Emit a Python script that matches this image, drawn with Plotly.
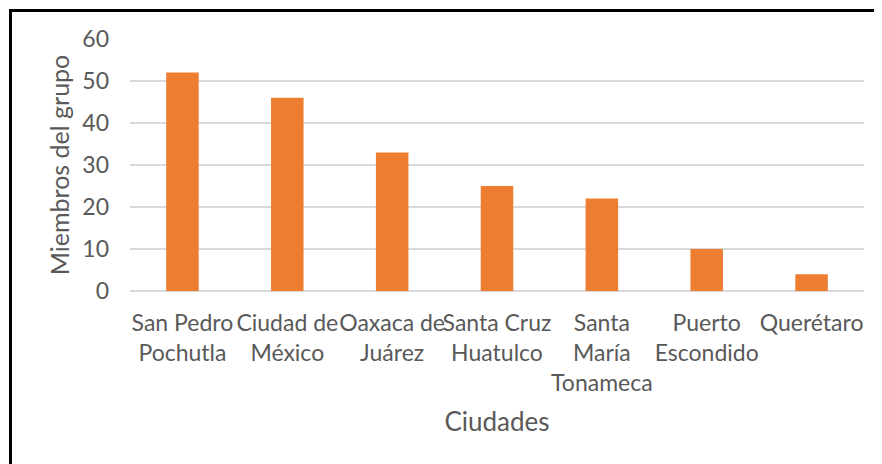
import plotly.graph_objects as go

categories = ["San Pedro<br>Pochutla", "Ciudad de<br>México", "Oaxaca de<br>Juárez",
              "Santa Cruz<br>Huatulco", "Santa<br>María<br>Tonameca",
              "Puerto<br>Escondido", "Querétaro"]
values = [52, 46, 33, 25, 22, 10, 4]
y_ticks = [0, 10, 20, 30, 40, 50, 60]

FONT = "Lato, Calibri, Carlito, sans-serif"
GRAY = "#595959"

fig = go.Figure(go.Bar(x=categories, y=values, marker=dict(color="#ED7D31", line=dict(width=0)),
                       width=0.31))

# page body has an 8px margin, so the plot area is placed 8px up/left to compensate
fig.update_layout(
    width=882, height=464,
    margin=dict(l=122, r=26, t=31, b=181),
    paper_bgcolor="white", plot_bgcolor="white",
    font=dict(family=FONT, size=23, color=GRAY),
    showlegend=False,
    xaxis=dict(
        title=dict(text="Ciudades", font=dict(size=26, color=GRAY), standoff=18),
        tickfont=dict(size=23, color=GRAY),
        showgrid=False, showline=False, ticks="", tickangle=0,
        ticklabelstandoff=16,
    ),
    yaxis=dict(
        title=dict(text="Miembros del grupo", font=dict(size=25, color=GRAY), standoff=5),
        range=[0, 60], tickvals=y_ticks, tickfont=dict(size=23, color=GRAY),
        showgrid=True, gridcolor="#D9D9D9", gridwidth=1.5,
        zeroline=True, zerolinecolor="#D9D9D9", zerolinewidth=1.5,
        showline=False, ticks="", ticklabelstandoff=20,
    ),
    shapes=[dict(type="rect", xref="paper", yref="paper",
                 x0=(2.5 - 122) / 734, x1=1.06, y0=-0.8, y1=(252 + 31 - 2.5) / 252,
                 line=dict(color="black", width=3), fillcolor="rgba(0,0,0,0)", layer="above")],
)

fig.write_html("out.html")
